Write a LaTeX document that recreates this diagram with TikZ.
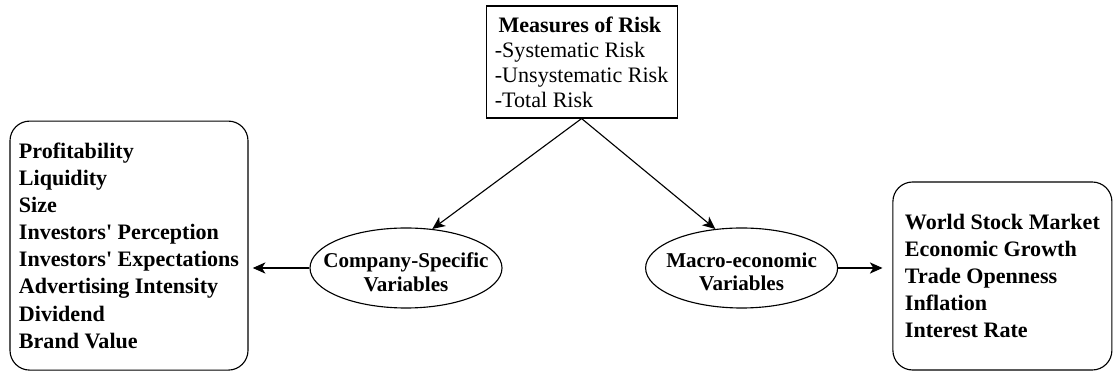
\documentclass[tikz,border=0pt]{standalone}
\usepackage{fontspec}
\setmainfont{Liberation Serif}
\usetikzlibrary{positioning}
\usetikzlibrary{shapes.geometric}
\usetikzlibrary{arrows.meta}
\tikzset{>={Stealth[length=9pt,width=8pt,inset=2.5pt]}}
\tikzset{lst/.style={draw,rounded corners=14pt,line width=0.8pt,align=left,inner sep=0pt,font=\fontsize{15.7}{19.3}\selectfont\bfseries}}
\tikzset{var/.style={draw,ellipse,line width=0.8pt,minimum width=4.8cm,minimum height=2cm,inner sep=0pt}}
\tikzset{vlab/.style={align=center,yshift=-3pt,font=\fontsize{15}{16.5}\selectfont\bfseries}}
\tikzset{arr/.style={->,line width=0.8pt}}

\begin{document}
\begin{tikzpicture}
\useasboundingbox (0,0) rectangle (27.825,9.3);
\node[draw,line width=0.8pt,align=left,minimum width=4.775cm,minimum height=2.8cm,inner sep=0pt,font=\fontsize{15.7}{17.8}\selectfont] (risk) at (14.54,7.75) {\textbf{\,Measures of Risk}\\-Systematic Risk\\-Unsystematic Risk\\-Total Risk};

\node[var,label={[vlab]center:Company-Specific\\Variables}] (cs) at (10.15,2.6) {};
\node[var,label={[vlab]center:Macro-economic\\Variables}] (mv) at (18.54,2.6) {};

\node[lst,minimum width=5.95cm,minimum height=6.225cm] (firm) at (3.225,3.16) {Profitability\\Liquidity\\Size\\Investors\textquotesingle\ Perception\\Investors\textquotesingle\ Expectations\\Advertising Intensity\\Dividend\\Brand Value};
\node[lst,minimum width=5.475cm,minimum height=4.7cm] (macro) at (25.06,2.4) {World Stock Market\\Economic Growth\\Trade Openness\\Inflation\\Interest Rate};

\draw[arr] (risk.south) -- (cs.56);
\draw[arr] (risk.south) -- (mv.124);
\draw[arr,shorten >=3pt] (cs.west) -- (cs.west -| firm.east);
\draw[arr,shorten >=7pt] (mv.east) -- (mv.east -| macro.west);
\end{tikzpicture}
\end{document}
